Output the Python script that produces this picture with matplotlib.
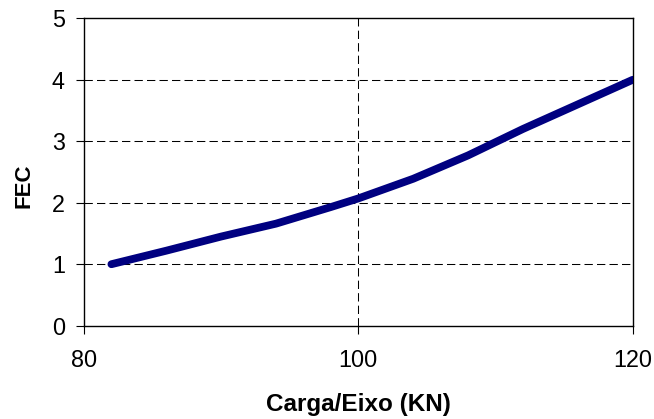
import matplotlib
matplotlib.use("Agg")
import matplotlib.pyplot as plt

# Axle load (kN) versus equivalent load factor (FEC)
carga_kn = [82, 86, 90, 94, 98, 100, 104, 108, 112, 116, 120]
fec = [1.00, 1.22, 1.45, 1.66, 1.93, 2.07, 2.39, 2.77, 3.20, 3.60, 4.00]

x_ticks = [80, 100, 120]
y_ticks = [0, 1, 2, 3, 4, 5]

plt.rcParams['font.family'] = ['Liberation Sans', 'DejaVu Sans']

fig = plt.figure(figsize=(6.54, 4.19), dpi=100)
ax = fig.add_axes([0.1284, 0.2227, 0.8390, 0.7336])

ax.set_xlim(80, 120)
ax.set_ylim(0, 5)
ax.set_xticks(x_ticks)
ax.set_yticks(y_ticks)

# dashed grid at interior ticks only
for yv in y_ticks[1:-1]:
    ax.axhline(yv, color='black', lw=0.75, ls=(0, (8, 4)), zorder=1)
for xv in x_ticks[1:-1]:
    ax.axvline(xv, color='black', lw=0.75, ls=(0, (8, 4)), zorder=1)

ax.plot(carga_kn, fec, color='#000080', lw=5.6, solid_capstyle='round',
        solid_joinstyle='round', zorder=3)

for s in ax.spines.values():
    s.set_color('black')
    s.set_linewidth(1.0)

ax.tick_params(axis='both', direction='out', length=5.8, width=0.8,
               labelsize=16.8, colors='black')
ax.tick_params(axis='y', pad=8)
ax.tick_params(axis='x', pad=11)

ax.set_xlabel('Carga/Eixo (KN)', fontsize=17.5, fontweight='bold',
              va='center', ha='center')
ax.set_ylabel('FEC', fontsize=16, fontweight='bold',
              va='center', ha='center')
ax.xaxis.set_label_coords(0.5, -0.255)
ax.yaxis.set_label_coords(-0.109, 0.4545)

fig.savefig('out.png', dpi=100)
